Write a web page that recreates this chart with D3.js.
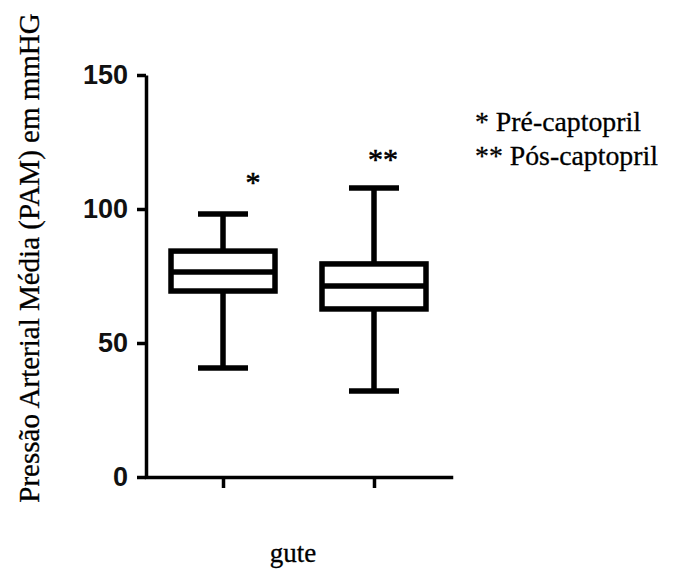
<!DOCTYPE html>
<html><head><meta charset="utf-8">
<script src="https://cdn.jsdelivr.net/npm/d3@7"></script>
<style>
body{margin:0;background:#fff}svg{display:block}
.serif{font-family:"Liberation Serif","Times New Roman",Times,serif}
.sans{font-family:"Liberation Sans",Arial,Helvetica,sans-serif}
</style>
</head><body>
<svg id="c" width="683" height="570"></svg>
<script>
const categories = ["Pré-captopril", "Pós-captopril"];
const marks = ["*", "**"];
const whiskerLow = [40.7, 32.1];
const q1 = [69.4, 62.7];
const median = [76.5, 71.3];
const q3 = [84.3, 79.5];
const whiskerHigh = [98.1, 107.8];
const yTicks = [0, 50, 100, 150];
const yLabel = "Pressão Arterial Média (PAM) em mmHG";
const xLabel = "gute";
const legendItems = ["* Pré-captopril", "** Pós-captopril"];

const svg = d3.select("#c");
const x = d3.scalePoint().domain(categories).range([146, 451]).padding(0.51);
const y = d3.scaleLinear().domain([0, 150]).range([477, 75]);

const data = categories.map((c, i) => ({c, lo: whiskerLow[i], q1: q1[i], med: median[i], q3: q3[i], hi: whiskerHigh[i], mark: marks[i]}));

const boxHalf = 52, capHalf = 25;
const g = svg.append("g").attr("stroke", "#000").attr("stroke-width", 5.5).attr("fill", "none");
data.forEach(d => {
  const cx = x(d.c);
  g.append("line").attr("x1", cx).attr("x2", cx).attr("y1", y(d.hi)).attr("y2", y(d.q3));
  g.append("line").attr("x1", cx).attr("x2", cx).attr("y1", y(d.q1)).attr("y2", y(d.lo));
  g.append("line").attr("x1", cx - capHalf).attr("x2", cx + capHalf).attr("y1", y(d.hi)).attr("y2", y(d.hi));
  g.append("line").attr("x1", cx - capHalf).attr("x2", cx + capHalf).attr("y1", y(d.lo)).attr("y2", y(d.lo));
  g.append("rect").attr("x", cx - boxHalf).attr("width", 2 * boxHalf).attr("y", y(d.q3)).attr("height", y(d.q1) - y(d.q3)).attr("fill", "#fff");
  g.append("line").attr("x1", cx - boxHalf).attr("x2", cx + boxHalf).attr("y1", y(d.med)).attr("y2", y(d.med));
});

// significance marks
const markX = [253, 383];
const markY = [179, 156];
data.forEach((d, i) => {
  svg.append("text").attr("class", "serif").attr("x", markX[i]).attr("y", markY[i] + 13)
    .attr("text-anchor", "middle")
    .attr("font-size", 30).attr("fill", "#000").attr("stroke", "#000").attr("stroke-width", 0.6).text(d.mark);
});

// axes
const yAxis = svg.append("g").attr("transform", "translate(146,0)")
  .call(d3.axisLeft(y).tickValues(yTicks).tickSize(9).tickSizeOuter(0).tickPadding(9));
yAxis.attr("font-family", null);
yAxis.selectAll("path,line").attr("stroke", "#000").attr("stroke-width", 3.5);
yAxis.selectAll("text").attr("class", "sans").attr("font-weight", "bold")
  .attr("font-size", 27).attr("fill", "#111");

const xAxis = svg.append("g").attr("transform", "translate(0,477)")
  .call(d3.axisBottom(x).tickSize(11).tickSizeOuter(0).tickFormat(""));
xAxis.selectAll("path,line").attr("stroke", "#000").attr("stroke-width", 3.5);
xAxis.select("path").attr("stroke-linecap", "square");

// y label
svg.append("text").attr("class", "serif").attr("transform", "translate(39,258) rotate(-90)")
  .attr("text-anchor", "middle")
  .attr("font-size", 29).attr("fill", "#000").attr("stroke", "#000").attr("stroke-width", 0.3).text(yLabel);

// x label
svg.append("text").attr("class", "serif").attr("x", 293).attr("y", 562).attr("text-anchor", "middle")
  .attr("font-size", 27)
  .attr("fill", "#000").attr("stroke", "#000").attr("stroke-width", 0.3).text(xLabel);

// legend
svg.selectAll(".leg").data(legendItems).enter().append("text").attr("class", "serif")
  .attr("x", 475).attr("y", (d, i) => 131 + i * 34)
  .attr("font-size", 27.8)
  .attr("fill", "#000").attr("stroke", "#000").attr("stroke-width", 0.3).text(d => d);
</script>
</body></html>
